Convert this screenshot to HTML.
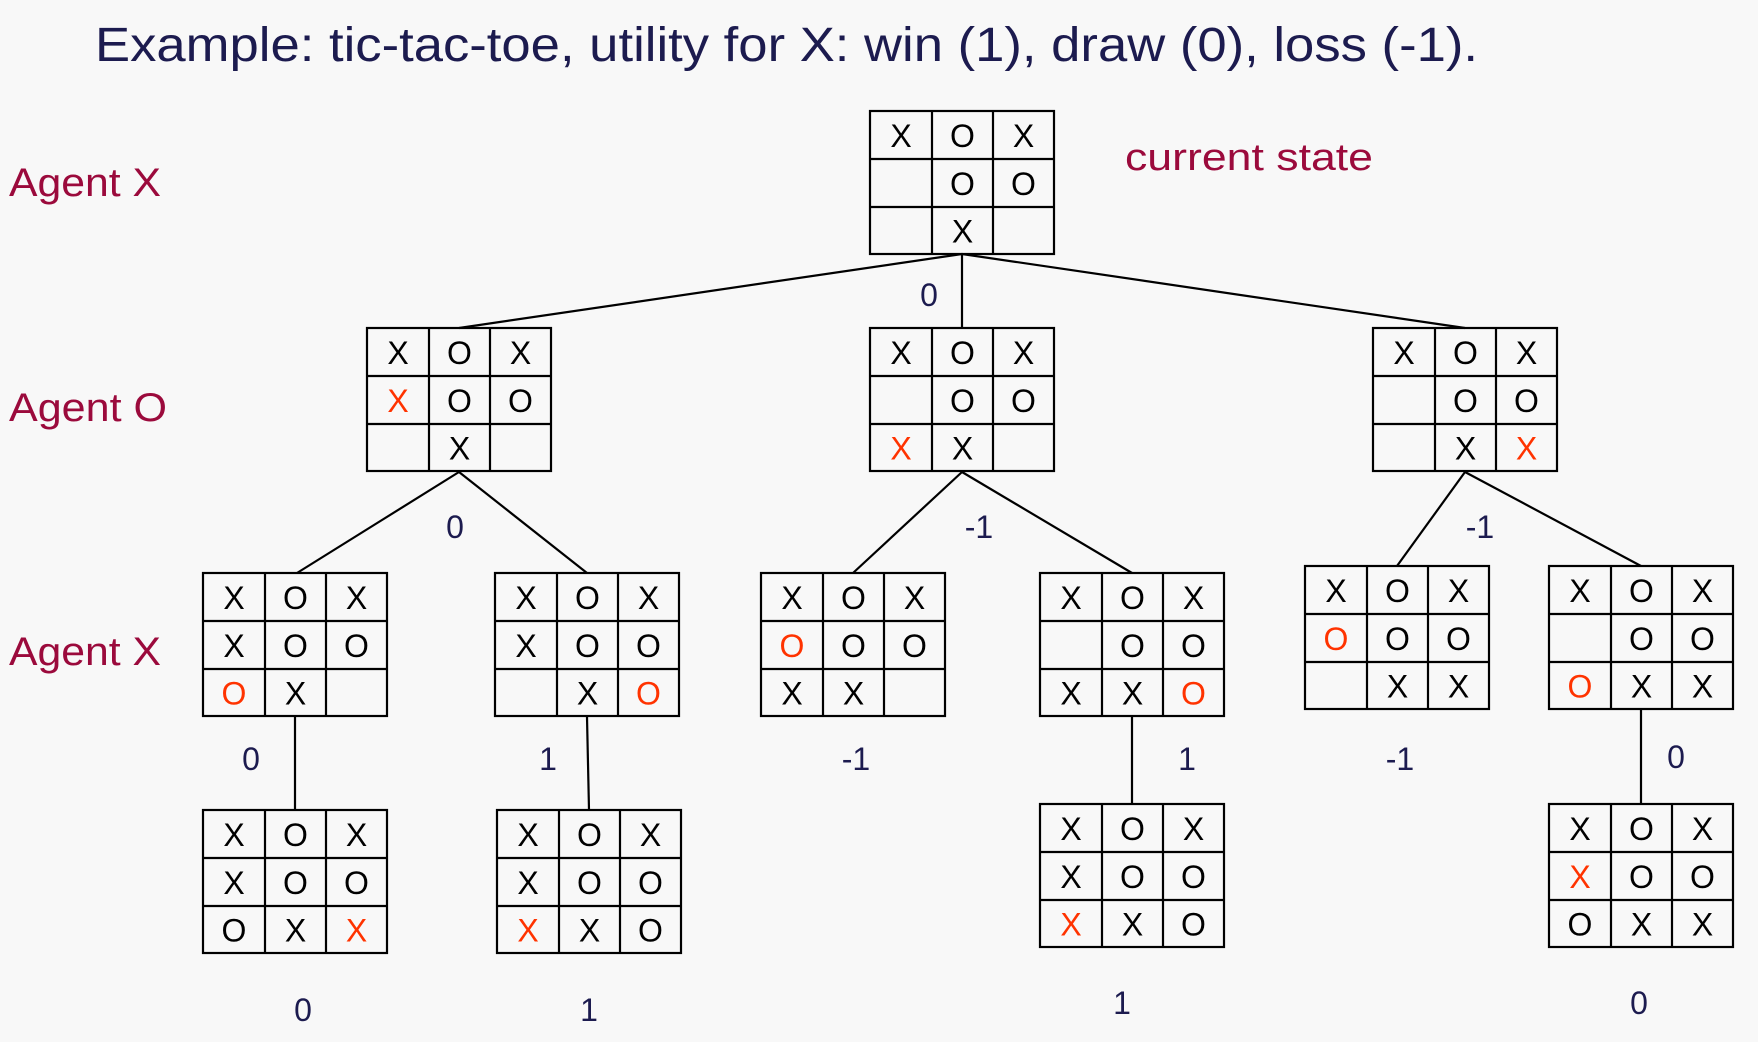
<!DOCTYPE html>
<html><head><meta charset="utf-8"><style>
html,body{margin:0;padding:0;background:#f8f8f8}
svg{display:block}
</style></head><body>
<svg id="s" width="1758" height="1042" xmlns="http://www.w3.org/2000/svg" font-family="Liberation Sans, sans-serif">
<rect width="1758" height="1042" fill="#f8f8f8"/>
<text x="95" y="61" font-size="48" fill="#1c1b4f" textLength="1383" lengthAdjust="spacingAndGlyphs">Example: tic-tac-toe, utility for X: win (1), draw (0), loss (-1).</text>
<g fill="#9b0a3c" font-size="40">
<text x="9" y="196" textLength="152" lengthAdjust="spacingAndGlyphs">Agent X</text>
<text x="9" y="421" textLength="158" lengthAdjust="spacingAndGlyphs">Agent O</text>
<text x="9" y="665" textLength="152" lengthAdjust="spacingAndGlyphs">Agent X</text>
<text x="1125" y="170" font-size="38" textLength="248" lengthAdjust="spacingAndGlyphs">current state</text>
</g>
<g stroke="#000" stroke-width="2.2">
<line x1="962" y1="254" x2="459" y2="328"/>
<line x1="962" y1="254" x2="962" y2="328"/>
<line x1="962" y1="254" x2="1465" y2="328"/>
<line x1="459" y1="472" x2="297" y2="573"/>
<line x1="459" y1="472" x2="587" y2="573"/>
<line x1="962" y1="472" x2="853" y2="573"/>
<line x1="962" y1="472" x2="1132" y2="573"/>
<line x1="1465" y1="472" x2="1397" y2="566"/>
<line x1="1465" y1="472" x2="1641" y2="566"/>
<line x1="295" y1="717" x2="295" y2="810"/>
<line x1="587" y1="717" x2="589" y2="810"/>
<line x1="1132" y1="717" x2="1132" y2="804"/>
<line x1="1641" y1="710" x2="1641" y2="804"/>
</g>
<g id="boards"></g>
<g fill="#1c1b4f" font-size="32" text-anchor="middle">
<text x="929" y="306">0</text>
<text x="455" y="538">0</text>
<text x="979" y="538">-1</text>
<text x="1480" y="538">-1</text>
<text x="251" y="770">0</text>
<text x="548" y="770">1</text>
<text x="856" y="770">-1</text>
<text x="1187" y="770">1</text>
<text x="1400" y="770">-1</text>
<text x="1676" y="768">0</text>
<text x="303" y="1021">0</text>
<text x="589" y="1021">1</text>
<text x="1122" y="1014">1</text>
<text x="1639" y="1014">0</text>
</g>
<g id="b">
<!-- boards generated statically below -->
</g>
</svg>
<script>
var B=[
[870,111,"XOX|.OO|.X."],
[367,328,"XOX|rOO|.X."],
[870,328,"XOX|.OO|rX."],
[1373,328,"XOX|.OO|.Xr"],
[203,573,"XOX|XOO|sX."],
[495,573,"XOX|XOO|.Xs"],
[761,573,"XOX|sOO|XX."],
[1040,573,"XOX|.OO|XXs"],
[1305,566,"XOX|sOO|.XX"],
[1549,566,"XOX|.OO|sXX"],
[203,810,"XOX|XOO|OXr"],
[497,810,"XOX|XOO|rXO"],
[1040,804,"XOX|XOO|rXO"],
[1549,804,"XOX|rOO|OXX"]];
var cx=[0,62,123,184],ry=[0,48,96,143],h='';
B.forEach(function(b){var x=b[0],y=b[1];
h+='<rect x="'+x+'" y="'+y+'" width="184" height="143" fill="none" stroke="#000" stroke-width="2.2"/>';
for(var i=1;i<3;i++){h+='<line x1="'+(x+cx[i])+'" y1="'+y+'" x2="'+(x+cx[i])+'" y2="'+(y+143)+'" stroke="#000" stroke-width="2.2"/>';
h+='<line x1="'+x+'" y1="'+(y+ry[i])+'" x2="'+(x+184)+'" y2="'+(y+ry[i])+'" stroke="#000" stroke-width="2.2"/>';}
var rows=b[2].split('|');
for(var r=0;r<3;r++)for(var c=0;c<3;c++){var ch=rows[r][c];if(ch=='.')continue;var col='#000';
if(ch=='r'){ch='X';col='#ff3300';}if(ch=='s'){ch='O';col='#ff3300';}
h+='<text x="'+(x+(cx[c]+cx[c+1])/2)+'" y="'+(y+(ry[r]+ry[r+1])/2+12)+'" font-size="32" text-anchor="middle" fill="'+col+'">'+ch+'</text>';}
});
document.getElementById('boards').innerHTML=h;
</script>
</body></html>
